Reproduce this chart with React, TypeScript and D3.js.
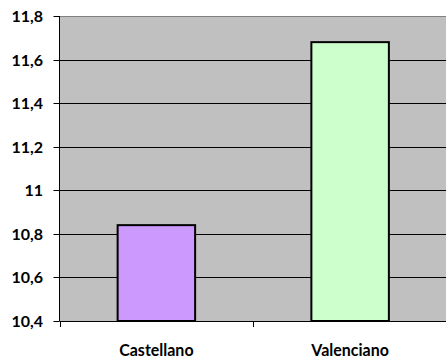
import React from "react";
import * as d3 from "d3";

const categories = ["Castellano", "Valenciano"];
const values = [10.84, 11.68];
const barColors = ["#cc99ff", "#ccffcc"];
const yTicks = [10.4, 10.6, 10.8, 11, 11.2, 11.4, 11.6, 11.8];

const W = 446;
const H = 363;
const plot = { left: 59.5, top: 16, right: 447, bottom: 321 };

export default function App() {
  const x = d3
    .scaleBand<string>()
    .domain(categories)
    .range([plot.left, plot.right])
    .paddingInner(0.6)
    .paddingOuter(0.3);
  const band = d3.scaleBand<string>().domain(categories).range([plot.left, plot.right]);
  const y = d3.scaleLinear().domain([10.4, 11.8]).range([plot.bottom, plot.top]);
  const fmt = (v: number) => String(v).replace(".", ",");
  const font = "Lato, 'Open Sans', sans-serif";

  return (
    <svg
      width={W}
      height={H}
      style={{ position: "absolute", left: 0, top: 0, display: "block" }}
    >
      <rect x={0} y={0} width={W} height={H} fill="#fff" />
      <rect
        x={plot.left}
        y={plot.top}
        width={plot.right - plot.left}
        height={plot.bottom - plot.top}
        fill="#c0c0c0"
      />
      <line x1={plot.left} x2={plot.right} y1={plot.top + 0.5} y2={plot.top + 0.5} stroke="#808080" />
      {yTicks.slice(1, -1).map((t) => (
        <line
          key={t}
          x1={plot.left}
          x2={plot.right}
          y1={Math.round(y(t)) + 0.5}
          y2={Math.round(y(t)) + 0.5}
          stroke="#000"
        />
      ))}
      {categories.map((c, i) => (
        <rect
          key={c}
          x={x(c)!}
          y={y(values[i])}
          width={x.bandwidth()}
          height={plot.bottom - y(values[i])}
          fill={barColors[i]}
          stroke="#000"
          strokeWidth={2}
        />
      ))}
      {/* axes */}
      <line x1={plot.left} x2={plot.left} y1={plot.top} y2={plot.bottom} stroke="#000" />
      <line x1={plot.left} x2={plot.right} y1={plot.bottom + 0.5} y2={plot.bottom + 0.5} stroke="#000" />
      {yTicks.map((t) => (
        <g key={t}>
          <line
            x1={plot.left - 6}
            x2={plot.left}
            y1={Math.round(y(t)) + 0.5}
            y2={Math.round(y(t)) + 0.5}
            stroke="#000"
          />
          <text
            x={43}
            y={y(t) + 6}
            textAnchor="end"
            fontFamily={font}
            fontWeight="bold"
            fontSize={16}
            fill="#000"
          >
            {fmt(t)}
          </text>
        </g>
      ))}
      {[plot.left, ...categories.map((c) => band(c)! + band.bandwidth())].map((tx, i) => (
        <line
          key={i}
          x1={Math.round(tx) + 0.5}
          x2={Math.round(tx) + 0.5}
          y1={plot.bottom}
          y2={plot.bottom + 6}
          stroke="#000"
        />
      ))}
      {categories.map((c) => (
        <text
          key={c}
          transform={`translate(${band(c)! + band.bandwidth() / 2},355.5) scale(1,1.12)`}
          textAnchor="middle"
          fontFamily={font}
          fontWeight="bold"
          fontSize={16}
          fill="#000"
        >
          {c}
        </text>
      ))}
    </svg>
  );
}
